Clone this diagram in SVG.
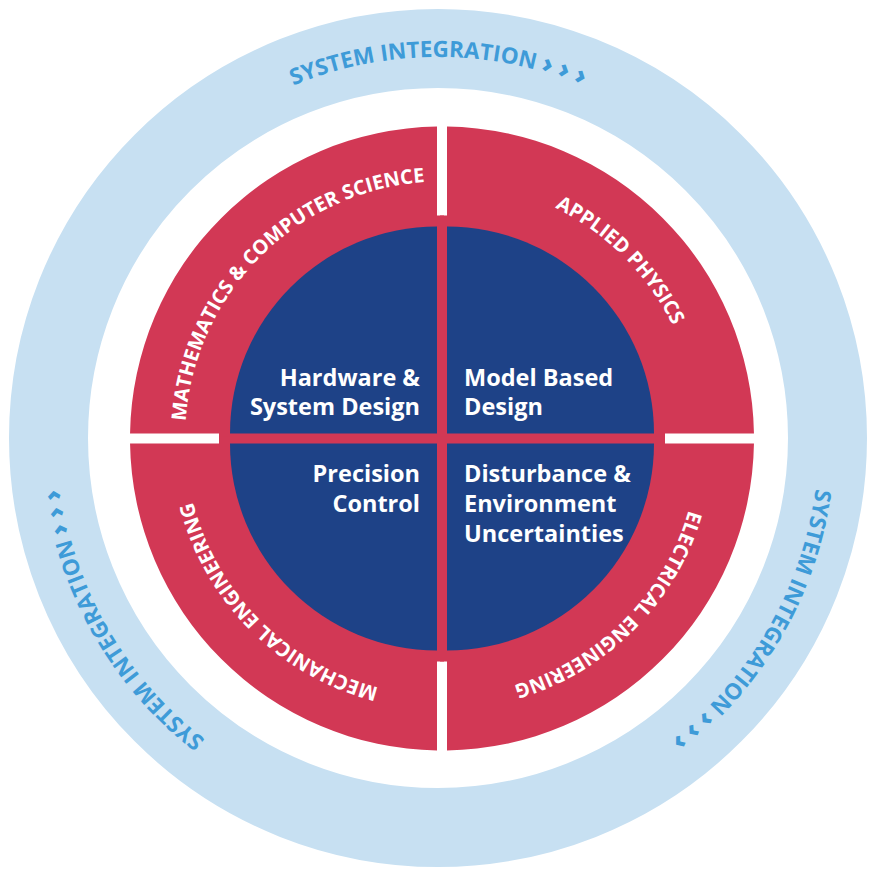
<svg xmlns="http://www.w3.org/2000/svg" width="873" height="871" viewBox="0 0 873 871">
<style>
.ring{fill:none;stroke:#c7e0f2;stroke-width:79}
.red{fill:#d23855}
.blue{fill:#1e4287}
.lbl{font-family:"Open Sans","Noto Sans","Liberation Sans",sans-serif;font-weight:700;font-size:23.5px;fill:#ffffff}
.arc{font-family:"Open Sans","Noto Sans","Liberation Sans",sans-serif;font-weight:700;font-size:20px;fill:#ffffff}
.si{font-family:"Open Sans","Noto Sans","Liberation Sans",sans-serif;font-weight:700;font-size:22.5px;fill:#3e9bd8}
.chev{font-size:26px;font-weight:800}
</style>
<defs>
<path id="pTL" d="M245.13,603.69 A257,257 0 0 1 607.19,241.63"/>
<path id="pTR" d="M276.81,241.63 A257,257 0 0 1 638.87,603.69"/>
<path id="pBR" d="M638.87,273.31 A257,257 0 0 1 276.81,635.37"/>
<path id="pBL" d="M607.19,635.37 A257,257 0 0 1 245.13,273.31"/>
<path id="sTop" d="M58.45,404.79 A381,381 0 0 1 817.55,404.79"/>
<path id="sRight" d="M656.53,125.9 A381,381 0 0 1 276.99,783.3"/>
<path id="sLeft" d="M599.01,783.3 A381,381 0 0 1 219.47,125.9"/>
</defs>
<rect width="873" height="871" fill="#ffffff"/>
<g id="system-integration">
<circle class="ring" cx="438" cy="438" r="389.5"/>
<text class="si"><textPath href="#sTop" startOffset="50%" text-anchor="middle">SYSTEM INTEGRATION <tspan class="chev">› › ›</tspan></textPath></text>
<text class="si"><textPath href="#sRight" startOffset="50%" text-anchor="middle">SYSTEM INTEGRATION <tspan class="chev">› › ›</tspan></textPath></text>
<text class="si"><textPath href="#sLeft" startOffset="50%" text-anchor="middle">SYSTEM INTEGRATION <tspan class="chev">› › ›</tspan></textPath></text>
</g>
<g id="math-cs">
<path class="red" d="M444,440.5 L219,440.5 L219,433.5 L130.04,433.5 A312,312 0 0 1 437,126.54 L437,215.5 L444,215.5 Z"/>
<text class="arc"><textPath href="#pTL" startOffset="50%" text-anchor="middle">MATHEMATICS &amp; COMPUTER SCIENCE</textPath></text>
</g>
<g id="applied-physics">
<path class="red" d="M440,440.5 L440,215.5 L447,215.5 L447,126.54 A312,312 0 0 1 753.96,433.5 L665,433.5 L665,440.5 Z"/>
<text class="arc"><textPath href="#pTR" startOffset="50%" text-anchor="middle">APPLIED PHYSICS</textPath></text>
</g>
<g id="electrical-engineering">
<path class="red" d="M440,436.5 L665,436.5 L665,443.5 L753.96,443.5 A312,312 0 0 1 447,750.46 L447,661.5 L440,661.5 Z"/>
<text class="arc"><textPath href="#pBR" startOffset="50%" text-anchor="middle">ELECTRICAL ENGINEERING</textPath></text>
</g>
<g id="mechanical-engineering">
<path class="red" d="M444,436.5 L444,661.5 L437,661.5 L437,750.46 A312,312 0 0 1 130.04,443.5 L219,443.5 L219,436.5 Z"/>
<text class="arc"><textPath href="#pBL" startOffset="50%" text-anchor="middle">MECHANICAL ENGINEERING</textPath></text>
</g>
<g id="hardware-system-design">
<path class="blue" d="M437,433.5 L230,433.5 A207,207 0 0 1 437,226.5 Z"/>
<text class="lbl" text-anchor="end"><tspan x="420" y="386">Hardware &amp;</tspan><tspan x="420" y="415">System Design</tspan></text>
</g>
<g id="model-based-design">
<path class="blue" d="M447,433.5 L447,226.5 A207,207 0 0 1 654,433.5 Z"/>
<text class="lbl"><tspan x="464" y="386">Model Based</tspan><tspan x="464" y="415">Design</tspan></text>
</g>
<g id="disturbance">
<path class="blue" d="M447,443.5 L654,443.5 A207,207 0 0 1 447,650.5 Z"/>
<text class="lbl"><tspan x="464" y="482">Disturbance &amp;</tspan><tspan x="464" y="512">Environment</tspan><tspan x="464" y="542">Uncertainties</tspan></text>
</g>
<g id="precision-control">
<path class="blue" d="M437,443.5 L437,650.5 A207,207 0 0 1 230,443.5 Z"/>
<text class="lbl" text-anchor="end"><tspan x="420" y="482">Precision</tspan><tspan x="420" y="512">Control</tspan></text>
</g>
<g id="connectors"/>
</svg>
